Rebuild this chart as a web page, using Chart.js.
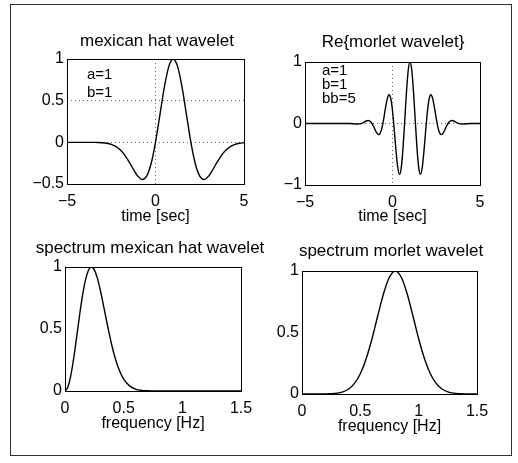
<!DOCTYPE html>
<html>
<head>
<meta charset="utf-8">
<script src="https://cdn.jsdelivr.net/npm/chart.js@4/dist/chart.umd.min.js"></script>
<style>
  body { margin: 0; background: #fff; }
  #fig { position: relative; width: 518px; height: 463px; overflow: hidden; background: #fff; }
  #frame { position: absolute; left: 10px; top: 4px; width: 502px; height: 452px; border: 1.5px solid #333; box-sizing: border-box; }
  canvas { position: absolute; }
</style>
</head>
<body>
<div id="fig">
  <div id="frame"></div>
  <canvas id="mh" width="314" height="240" style="left:0px;top:0px"></canvas>
  <canvas id="morlet" width="256" height="240" style="left:265px;top:0px"></canvas>
  <canvas id="mhSpec" width="300" height="238" style="left:0px;top:225px"></canvas>
  <canvas id="morletSpec" width="254" height="238" style="left:264px;top:225px"></canvas>
</div>
<script>
// mexican hat wavelet, a=1 b=1
const mhTime = [-5, -4.75, -4.5, -4.25, -4, -3.75, -3.5, -3.25, -3, -2.75, -2.5, -2.25, -2, -1.75, -1.5, -1.25, -1, -0.75, -0.5, -0.25,
  0, 0.25, 0.5, 0.75, 1, 1.25, 1.5, 1.75, 2, 2.25, 2.5, 2.75, 3, 3.25, 3.5, 3.75, 4, 4.25, 4.5, 4.75, 5];
const mhValues = [0, 0, 0, 0, -0.0001, -0.0003, -0.0008, -0.002, -0.005, -0.0115, -0.0246, -0.0486, -0.0889, -0.1496, -0.2307, -0.323, -0.406, -0.446, -0.406, -0.2575,
  0, 0.33, 0.662, 0.9086, 1, 0.9086, 0.662, 0.33, 0, -0.2575, -0.406, -0.446, -0.406, -0.323, -0.2307, -0.1496, -0.0889, -0.0486, -0.0246, -0.0115, -0.005];

// real part of the morlet wavelet, a=1 b=1 bb=5
const morletTime = [-5, -4, -3, -2.5,
  -2, -1.9, -1.8, -1.7, -1.6, -1.5, -1.4, -1.3, -1.2, -1.1, -1, -0.9, -0.8, -0.7, -0.6, -0.5, -0.4, -0.3, -0.2, -0.1,
  0, 0.1, 0.2, 0.3, 0.4, 0.5, 0.6, 0.7, 0.8, 0.9, 1, 1.1, 1.2, 1.3, 1.4, 1.5, 1.6, 1.7, 1.8, 1.9,
  2, 2.1, 2.2, 2.3, 2.4, 2.5, 2.6, 2.7, 2.8, 2.9, 3, 3.1, 3.2, 3.3, 3.4, 3.5, 3.6, 3.7, 3.8, 3.9, 4,
  4.5, 5];
const morletRe = [0, 0, 0, 0.0008,
  -0.0086, -0.007, -0.0008, 0.0106, 0.0257, 0.0403, 0.0477, 0.0404, 0.0121, -0.0366, -0.0981, -0.154, -0.1811, -0.1557, -0.0664, 0.0809, 0.2532, 0.4015, 0.4684, 0.4069,
  0.2066, -0.1017, -0.4421, -0.7154, -0.8269, -0.7217, -0.4047, 0.0492, 0.5187, 0.87, 1, 0.87, 0.5187, 0.0492, -0.4047, -0.7217, -0.8269, -0.7154, -0.4421, -0.1017,
  0.2066, 0.4069, 0.4684, 0.4015, 0.2532, 0.0809, -0.0664, -0.1557, -0.1811, -0.154, -0.0981, -0.0366, 0.0121, 0.0404, 0.0477, 0.0403, 0.0257, 0.0106, -0.0008, -0.007, -0.0086,
  0.0008, 0];

// spectra
const mhFreq = [0, 0.025, 0.05, 0.075, 0.1, 0.125, 0.15, 0.175, 0.2, 0.225, 0.25, 0.275, 0.3, 0.325, 0.35, 0.375, 0.4, 0.425, 0.45, 0.475,
  0.5, 0.55, 0.6, 0.65, 0.7, 0.8, 0.9, 1, 1.25, 1.5];
const mhSpectrum = [0, 0.0331, 0.1277, 0.27, 0.4404, 0.616, 0.7743, 0.8977, 0.9744, 1, 0.9766, 0.912, 0.817, 0.7045, 0.5857, 0.47, 0.365, 0.274, 0.1996, 0.1408,
  0.0964, 0.0414, 0.0158, 0.0054, 0.0017, 0.0001, 0, 0, 0, 0];
const morletFreq = [0, 0.05, 0.1, 0.15, 0.2, 0.25, 0.3, 0.35, 0.4, 0.45, 0.5, 0.55, 0.6, 0.65, 0.7, 0.75,
  0.8, 0.85, 0.9, 0.95, 1, 1.05, 1.1, 1.15, 1.2, 1.25, 1.3, 1.35, 1.4, 1.45, 1.5];
const morletSpectrum = [0, 0, 0, 0.0002, 0.0007, 0.0024, 0.0067, 0.0174, 0.041, 0.086, 0.165, 0.287, 0.449, 0.638, 0.819, 0.951,
  1, 0.951, 0.819, 0.638, 0.449, 0.287, 0.165, 0.086, 0.041, 0.0174, 0.0067, 0.0024, 0.0007, 0.0002, 0];

// tick labels
const timeTicks = [-5, 0, 5];
const freqTicks = [0, 0.5, 1, 1.5];
const mhTicks = [-0.5, 0, 0.5, 1];
const morletTicks = [-1, 0, 1];
const specTicks = [0, 0.5, 1];

const mhNotes = ['a=1', 'b=1'];
const morletNotes = ['a=1', 'b=1', 'bb=5'];

const FONT = '"Liberation Sans", Arial, Helvetica, sans-serif';

function pts(xs, ys) {
  return xs.map((x, i) => ({ x: x, y: ys[i] }));
}
function fmt(v) {
  return v < 0 ? '\u2212' + (-v) : String(v);
}

// frame around the plot area + text notes inside it
const boxPlugin = {
  id: 'box',
  afterDraw(chart, args, o) {
    const ctx = chart.ctx, a = chart.chartArea;
    ctx.save();
    ctx.strokeStyle = '#000';
    ctx.lineWidth = 1;
    ctx.strokeRect(Math.round(a.left) + 0.5, Math.round(a.top) + 0.5, Math.round(a.right - a.left), Math.round(a.bottom - a.top));
    if (o.lines) {
      ctx.fillStyle = '#000';
      ctx.font = '15px ' + FONT;
      ctx.textBaseline = 'alphabetic';
      o.lines.forEach((s, i) => ctx.fillText(s, a.left + o.dx, a.top + o.dy + i * o.step));
    }
    ctx.restore();
  }
};

function plot(id, c) {
  const gridOpts = c.grid
    ? { display: true, color: '#666', lineWidth: 1, drawTicks: false }
    : { display: false, drawTicks: false };
  return new Chart(document.getElementById(id), {
    type: 'line',
    data: {
      datasets: [{
        data: c.points,
        borderColor: '#000',
        borderWidth: 1.4,
        pointRadius: 0,
        fill: false,
        cubicInterpolationMode: 'monotone'
      }]
    },
    options: {
      responsive: false,
      animation: false,
      events: [],
      layout: { padding: 0 },
      plugins: {
        legend: { display: false },
        tooltip: { enabled: false },
        title: {
          display: true,
          text: c.title,
          color: '#000',
          font: { family: FONT, size: 17, weight: 'normal' },
          padding: { top: c.titleTop, bottom: c.titleBottom }
        },
        box: { lines: c.notes, dx: c.noteX, dy: c.noteY, step: c.noteStep }
      },
      scales: {
        x: {
          type: 'linear',
          min: c.xMin, max: c.xMax,
          afterBuildTicks: s => { s.ticks = c.xTicks.map(v => ({ value: v })); },
          afterFit: s => { s.height = c.xHeight; s.paddingLeft = 0; s.paddingRight = 0; },
          ticks: { autoSkip: false, maxRotation: 0, padding: 8, color: '#000', font: { family: FONT, size: 16 }, callback: v => fmt(v) },
          grid: gridOpts,
          border: { display: false, dash: [1, 3] },
          title: { display: true, text: c.xTitle, color: '#000', font: { family: FONT, size: 16 }, padding: { top: 0, bottom: c.xTitlePad } }
        },
        y: {
          type: 'linear',
          min: c.yMin, max: c.yMax,
          afterBuildTicks: s => { s.ticks = c.yTicks.map(v => ({ value: v })); },
          afterFit: s => { s.width = c.yWidth; s.paddingTop = 0; s.paddingBottom = 0; },
          ticks: { autoSkip: false, padding: 3, color: '#000', font: { family: FONT, size: 16 }, callback: v => fmt(v) },
          grid: gridOpts,
          border: { display: false, dash: [1, 3] }
        },
        spacer: {
          type: 'linear',
          axis: 'y',
          position: 'right',
          ticks: { display: false },
          grid: { display: false, drawTicks: false },
          border: { display: false },
          afterFit: s => { s.width = c.rightWidth; s.paddingTop = 0; s.paddingBottom = 0; }
        }
      }
    },
    plugins: [boxPlugin]
  });
}

plot('mh', {
  points: pts(mhTime, mhValues), title: 'mexican hat wavelet', titleTop: 30.8, titleBottom: 7.8,
  xMin: -5, xMax: 5, xTicks: timeTicks, xTitle: 'time [sec]', xHeight: 56, xTitlePad: 13.9,
  yMin: -0.5, yMax: 1, yTicks: mhTicks, yWidth: 67, rightWidth: 70, grid: true,
  notes: mhNotes, noteX: 20, noteY: 19.5, noteStep: 18
});
plot('morlet', {
  points: pts(morletTime, morletRe), title: 'Re{morlet wavelet}', titleTop: 31.8, titleBottom: 9.8,
  xMin: -5, xMax: 5, xTicks: timeTicks, xTitle: 'time [sec]', xHeight: 55, xTitlePad: 13.9,
  yMin: -1, yMax: 1, yTicks: morletTicks, yWidth: 40, rightWidth: 41, grid: true,
  notes: morletNotes, noteX: 17, noteY: 13, noteStep: 14
});
plot('mhSpec', {
  points: pts(mhFreq, mhSpectrum), title: 'spectrum mexican hat wavelet', titleTop: 12.8, titleBottom: 8.8,
  xMin: 0, xMax: 1.5, xTicks: freqTicks, xTitle: 'frequency [Hz]', xHeight: 72, xTitlePad: 29.9,
  yMin: 0, yMax: 1, yTicks: specTicks, yWidth: 65, rightWidth: 59, grid: false
});
plot('morletSpec', {
  points: pts(morletFreq, morletSpectrum), title: 'spectrum morlet wavelet', titleTop: 15.8, titleBottom: 9.8,
  xMin: 0, xMax: 1.5, xTicks: freqTicks, xTitle: 'frequency [Hz]', xHeight: 69, xTitlePad: 26.9,
  yMin: 0, yMax: 1, yTicks: specTicks, yWidth: 38, rightWidth: 41, grid: false
});
</script>
</body>
</html>
